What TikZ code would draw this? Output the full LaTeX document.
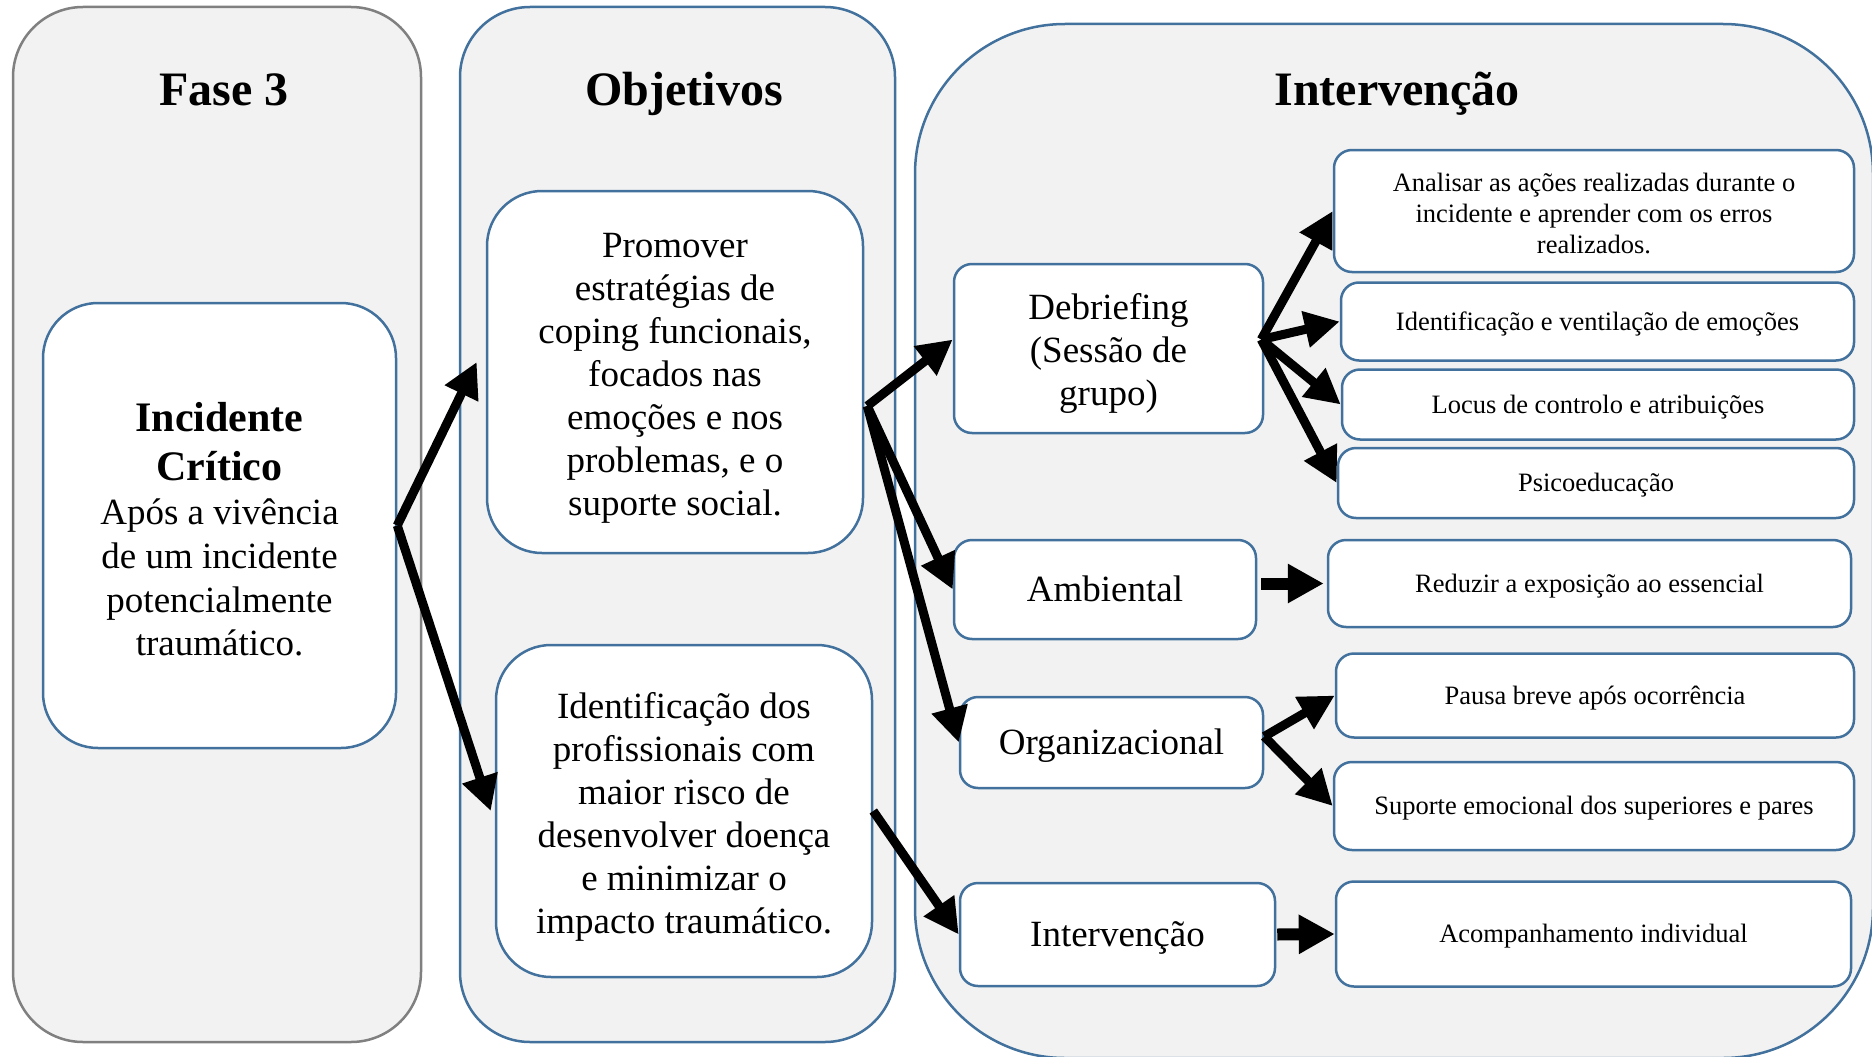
\documentclass[tikz,border=0pt]{standalone}
\usepackage{fontspec}
\setmainfont{Liberation Serif}
\usetikzlibrary{arrows.meta,calc}
\definecolor{frameblue}{RGB}{65,113,156}
\definecolor{framegray}{RGB}{128,128,128}
\definecolor{panelfill}{RGB}{242,242,242}
% invisible strut with the font's full ascent and descent
\newcommand\linestrut{\rule[-0.216em]{0pt}{1.107em}}
% invisible strut that sets the height of a first line
\newcommand\firststrut[1]{\rule{0pt}{#1}}

\begin{document}
\begin{tikzpicture}[x=1pt,y=-1pt,
  panel/.style={line width=2.5pt, fill=panelfill},
  struts/.style={execute at begin node=\linestrut, execute at end node=\linestrut},
  bigbox/.style={draw=frameblue, line width=2.5pt, fill=white, rounded corners=55pt,
    align=center, font=\fontsize{37}{43}\selectfont, inner sep=0pt},
  midbox/.style={draw=frameblue, line width=2.5pt, fill=white, rounded corners=18pt,
    align=center, font=\fontsize{37}{43}\selectfont, inner sep=0pt},
  smallbox/.style={draw=frameblue, line width=2.5pt, fill=white, rounded corners=18pt,
    align=center, font=\fontsize{26.5}{31}\selectfont, inner sep=0pt},
  title/.style={font=\fontsize{48}{56}\selectfont\bfseries, anchor=base},
  arr/.style={line width=9pt, -{Triangle[length=35pt,width=35pt]}},
  harr/.style={line width=12pt, -{Triangle[length=36pt,width=37pt]}}
]
\useasboundingbox (0,0) rectangle (1872,1057);

% column panels
\draw[panel, draw=framegray, rounded corners=70pt] (13,7) rectangle (421,1042);
\draw[panel, draw=frameblue, rounded corners=70pt] (460,7) rectangle (895,1042);
\draw[panel, draw=frameblue, rounded corners=150pt] (915,24) rectangle (1873,1058);

% column titles
\node[title] (t1) at (224,106) {Fase 3};
\node[title] (t2) at (684,106) {Objetivos};
\node[title] (t3) at (1397,105) {Intervenção};

% phase
\node[bigbox, align=flush center, text width=340pt, minimum width=353pt, minimum height=445pt] (inc) at (219.5,525.5)
  {{\fontsize{42}{48.5}\selectfont\bfseries\firststrut{37pt}Incidente\\Crítico\par}%
   \fontsize{37}{44}\selectfont Após a vivência\\de um incidente\\potencialmente\\traumático.};

% objectives
\node[bigbox, minimum width=376pt, minimum height=362pt] (obj1) at (675,372)
  {\firststrut{36.5pt}Promover\\estratégias de\\coping funcionais,\\focados nas\\emoções e nos\\problemas, e o\\suporte social.};
\node[bigbox, minimum width=376pt, minimum height=332pt] (obj2) at (684,811)
  {\firststrut{37.5pt}Identificação dos\\profissionais com\\maior risco de\\desenvolver doença\\e minimizar o\\impacto traumático.};

% intervention types
\node[midbox, minimum width=309pt, minimum height=169pt] (deb) at (1108.5,348.5)
  {\firststrut{35pt}Debriefing\\(Sessão de\\grupo)};
\node[midbox, struts, minimum width=302pt, minimum height=99pt] (amb) at (1105,589.5) {Ambiental};
\node[midbox, struts, minimum width=303pt, minimum height=91pt] (org) at (1111.5,742.5) {Organizacional};
\node[midbox, struts, minimum width=315pt, minimum height=103pt] (intv) at (1117.5,934.5) {Intervenção};

% actions
\node[smallbox, minimum width=520pt, minimum height=122pt] (anal) at (1594,211)
  {\firststrut{23pt}Analisar as ações realizadas durante o\\incidente e aprender com os erros\\realizados.};
\node[smallbox, struts, minimum width=513pt, minimum height=78pt] (ident) at (1597.5,321.5)
  {Identificação e ventilação de emoções};
\node[smallbox, struts, minimum width=512pt, minimum height=70pt] (locus) at (1598,404.5)
  {Locus de controlo e atribuições};
\node[smallbox, struts, minimum width=516pt, minimum height=70pt] (psico) at (1596,483)
  {Psicoeducação};
\node[smallbox, struts, minimum width=523pt, minimum height=87pt] (red) at (1589.5,583.5)
  {Reduzir a exposição ao essencial};
\node[smallbox, struts, minimum width=518pt, minimum height=84pt] (pausa) at (1595,695.5)
  {Pausa breve após ocorrência};
\node[smallbox, struts, minimum width=520pt, minimum height=88pt] (sup) at (1594,806)
  {Suporte emocional dos superiores e pares};
\node[smallbox, struts, minimum width=515pt, minimum height=105pt] (acomp) at (1593.5,934)
  {Acompanhamento individual};

% connectors
\draw[arr] (inc.east) -- ([shift={(-9,-10)}]obj1.west);
\draw[arr] (inc.east) -- ([shift={(-4,0)}]obj2.west);

\coordinate (j2) at ([shift={(3,34)}]obj1.east);
\draw[arr] (j2) -- ([shift={(0,-9)}]deb.west);
\draw[arr] (j2) -- (amb.west);
\draw[arr] (j2) -- (org.west);
\draw[arr] (obj2.east) -- (intv.west);

\coordinate (j3) at ([shift={(-3,-9)}]deb.east);
\draw[arr] (j3) -- (anal.west);
\draw[arr] (j3) -- (ident.west);
\draw[arr] (j3) -- (locus.west);
\draw[arr] (j3) -- (psico.west);

\draw[harr] ($(amb.east |- red.west)+(4,0)$) -- ($(red.west)+(-3,0)$);

\coordinate (j4) at ([shift={(0,-6)}]org.east);
\draw[arr] (j4) -- (pausa.west);
\draw[arr] (j4) -- (sup.west);

\draw[harr] ($(intv.east)+(1,0)$) -- (acomp.west);
\end{tikzpicture}
\end{document}
